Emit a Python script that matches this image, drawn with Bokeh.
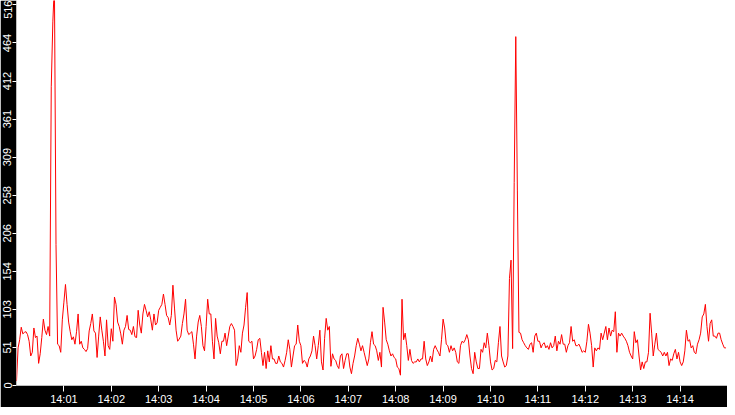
import pandas as pd
from bokeh.plotting import figure
from bokeh.models import ColumnDataSource, Range1d, FixedTicker, DatetimeTickFormatter
from bokeh.embed import file_html
from bokeh.resources import INLINE

# readings taken every 2 seconds, one list per minute (30 values each)
v_1400 = [6, 51, 62, 79, 70, 72, 73, 69, 60, 40, 45, 78, 65, 67, 30, 43, 65, 90, 75, 69,
          80, 67, 405, 493, 545, 191, 56, 54, 45, 89]
v_1401 = [113, 137, 110, 86, 73, 62, 66, 56, 73, 97, 56, 60, 51, 49, 46, 50, 74, 84, 97, 74,
          71, 38, 67, 93, 75, 60, 40, 89, 54, 49]
v_1402 = [77, 60, 120, 110, 86, 80, 70, 56, 75, 80, 95, 76, 75, 69, 80, 66, 65, 102, 82, 71,
          97, 110, 102, 93, 100, 89, 75, 97, 82, 85]
v_1403 = [102, 106, 110, 124, 110, 95, 92, 82, 95, 136, 105, 75, 60, 63, 67, 84, 97, 117, 75, 69,
          71, 73, 56, 36, 67, 86, 95, 80, 54, 47]
v_1404 = [80, 117, 97, 97, 60, 36, 91, 67, 58, 43, 60, 60, 71, 54, 67, 80, 84, 80, 75, 27,
          36, 54, 45, 71, 82, 106, 126, 60, 58, 60]
v_1405 = [36, 40, 49, 62, 64, 45, 27, 45, 23, 47, 32, 54, 36, 36, 30, 30, 40, 32, 30, 25,
          34, 45, 62, 49, 25, 40, 54, 56, 82, 60]
v_1406 = [54, 30, 34, 32, 25, 36, 40, 47, 67, 54, 36, 54, 75, 32, 21, 64, 91, 75, 80, 26,
          43, 36, 34, 27, 23, 40, 43, 23, 34, 43]
v_1407 = [43, 25, 16, 30, 40, 54, 64, 56, 47, 54, 45, 36, 27, 36, 58, 73, 56, 54, 47, 34,
          45, 25, 106, 86, 62, 56, 47, 40, 43, 38]
v_1408 = [36, 25, 23, 14, 117, 62, 71, 54, 34, 49, 34, 30, 32, 32, 36, 32, 36, 36, 60, 36,
          27, 32, 40, 32, 49, 54, 49, 45, 40, 62]
v_1409 = [90, 78, 56, 54, 45, 54, 47, 51, 45, 32, 30, 54, 60, 58, 62, 69, 62, 40, 23, 16,
          45, 32, 23, 23, 49, 45, 58, 51, 71, 54]
v_1410 = [32, 21, 23, 34, 32, 58, 80, 40, 32, 25, 27, 40, 145, 170, 50, 275, 473, 265, 72, 71,
          62, 58, 54, 51, 49, 56, 58, 45, 67, 71]
v_1411 = [60, 60, 51, 56, 58, 51, 54, 49, 58, 51, 54, 67, 47, 60, 56, 69, 56, 56, 45, 54,
          58, 80, 60, 62, 54, 54, 56, 51, 45, 47]
v_1412 = [45, 60, 83, 71, 54, 25, 51, 47, 51, 49, 71, 62, 71, 80, 62, 78, 67, 75, 73, 100,
          45, 71, 67, 71, 67, 64, 60, 54, 45, 40]
v_1413 = [36, 73, 58, 62, 40, 21, 32, 23, 32, 32, 45, 98, 71, 40, 56, 71, 49, 47, 45, 40,
          45, 40, 45, 27, 36, 34, 43, 49, 36, 45]
v_1414 = [32, 27, 32, 47, 75, 60, 62, 51, 54, 45, 43, 56, 62, 71, 93, 97, 110, 80, 60, 84,
          89, 67, 67, 64, 71, 71, 62, 56, 51, 51]

start_time = "2020-01-01 14:00:00"
end_time = "2020-01-01 14:15:00"

x_tick_labels = ["14:01", "14:02", "14:03", "14:04", "14:05", "14:06", "14:07",
                 "14:08", "14:09", "14:10", "14:11", "14:12", "14:13", "14:14"]
y_tick_values = [0, 51.6, 103.2, 154.8, 206.4, 258.0, 309.6, 361.2, 412.8, 464.4, 516.0]
y_tick_labels = ["0", "51", "103", "154", "206", "258", "309", "361", "412", "464", "516"]

values = (v_1400 + v_1401 + v_1402 + v_1403 + v_1404 + v_1405 + v_1406 + v_1407
          + v_1408 + v_1409 + v_1410 + v_1411 + v_1412 + v_1413 + v_1414)
times = pd.date_range(start_time, periods=len(values), freq="2s")
src = ColumnDataSource(data=dict(time=times, value=values))

p = figure(width=727, height=407, x_axis_type="datetime",
           x_range=Range1d(pd.Timestamp(start_time), pd.Timestamp(end_time)),
           y_range=Range1d(0, 522),
           output_backend="svg", toolbar_location=None,
           min_border_left=0, min_border_right=0, min_border_top=0, min_border_bottom=0)
p.border_fill_color = "black"
p.background_fill_color = "white"
p.outline_line_color = None
p.xgrid.visible = False
p.ygrid.visible = False

p.line(x="time", y="value", source=src, line_color="#ff0000", line_width=1)

# x ticks: one per minute
x_ticks = [pd.Timestamp("2020-01-01 " + t).value // 10**6 for t in x_tick_labels]
p.xaxis.ticker = FixedTicker(ticks=x_ticks)
p.xaxis.formatter = DatetimeTickFormatter(minutes="%H:%M", minsec="%H:%M", hourmin="%H:%M")
p.xaxis.major_label_overrides = dict(zip(x_ticks, x_tick_labels))

p.yaxis.ticker = FixedTicker(ticks=y_tick_values)
p.yaxis.major_label_overrides = dict(zip(y_tick_values, y_tick_labels))
p.yaxis.major_label_orientation = "vertical"

for ax in (p.xaxis[0], p.yaxis[0]):
    ax.axis_line_color = None
    ax.major_tick_line_color = "white"
    ax.minor_tick_line_color = None
    ax.major_tick_in = 0
    ax.major_label_standoff = 1
    ax.major_label_text_color = "white"
    ax.major_label_text_font = "Liberation Sans"
    ax.major_label_text_font_size = "11px"
p.xaxis.major_tick_out = 6
p.yaxis.major_tick_out = 4

open("out.html", "w").write(file_html(p, INLINE))
